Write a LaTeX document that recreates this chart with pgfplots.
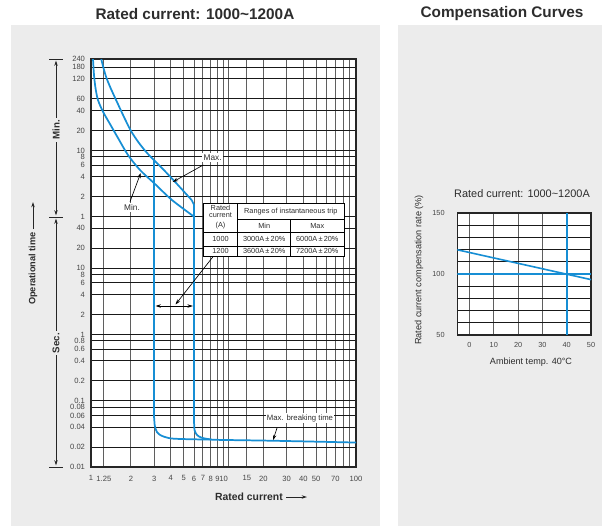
\documentclass[border=0pt]{standalone}
\usepackage{pgfplots}
\pgfplotsset{compat=1.18}
\usepackage{fontspec}
\setmainfont{Liberation Sans}
\usetikzlibrary{arrows.meta}
\definecolor{panel}{RGB}{236,236,236}
\definecolor{cblue}{RGB}{22,142,212}
\definecolor{txt}{RGB}{45,45,45}
\definecolor{ticktxt}{RGB}{70,70,70}
\definecolor{gridv}{RGB}{95,95,95}
\definecolor{gridh}{RGB}{25,25,25}
\begin{document}
\begin{tikzpicture}[x=0.75pt,y=0.75pt]
\useasboundingbox (0,0) rectangle (602,526);
\fill[panel] (11,0) rectangle (380,501);
\fill[panel] (398,0) rectangle (602,501);
\node[font=\fontsize{11.5}{13}\selectfont\bfseries, text=txt] at (195,512) {Rated current: 1000\textasciitilde1200A};
\node[font=\fontsize{11.5}{13}\selectfont\bfseries, text=txt] at (502,512) {Compensation Curves};

% ---------------- main chart ----------------
\begin{axis}[
  at={(68.25pt,44.25pt)}, anchor=south west, scale only axis,
  width=198.75pt, height=306pt,
  xmode=log, ymode=log,
  xmin=1, xmax=100, ymin=0.01, ymax=14400,
  axis background/.style={fill=white},
  axis line style={line width=1.3pt, draw=black!85},
  xtick={1,1.25,2,3,4,5,6,7,8,9,10,15,20,30,40,50,70,100},
  xticklabels={1,1.25,2,3,4,5,6,7,8,9,10,15,20,30,40,50,70,100},
  minor xtick={11,60,80,90},
  ytick={14400,10800,7200,3600,2400,1200,600,480,360,240,120,60,40,20,10,8,6,4,2,1,0.8,0.6,0.4,0.2,0.1,0.08,0.06,0.04,0.02,0.01},
  yticklabels={240,180,120,60,40,20,10,8,6,4,2,1,40,20,10,8,6,4,2,1,0.8,0.6,0.4,0.2,0.1,0.08,0.06,0.04,0.02,0.01},
  major tick length=0pt, minor tick length=0pt,
  xmajorgrids, xminorgrids, ymajorgrids,
  x grid style={draw=gridv, line width=0.75pt},
  minor grid style={draw=gridv, line width=0.75pt},
  y grid style={draw=gridh, line width=0.75pt},
  tick label style={font=\fontsize{5.7}{6}\selectfont, text=ticktxt},
  xticklabel style={yshift=-3pt},
  yticklabel style={xshift=-1pt},
]
% Min curve
\addplot[cblue, line width=1.3pt, smooth, tension=0.5] coordinates {(1.03,18000)(1.0354,14400)(1.0535,8260)(1.0813,5258)(1.129,3464)(1.232,2307)(1.391,1504)(1.599,925)(1.902,512)(2.344,304)(3.041,187)(4.087,107)(6,60)};
% Max curve
\addplot[cblue, line width=1.3pt, smooth, tension=0.5] coordinates {(1.19,17000)(1.196,14400)(1.2427,10534)(1.309,7443)(1.416,5077)(1.571,3232)(1.774,1919)(2.004,1179)(2.303,777)(2.693,530)(3.317,349)(4.18,215)(5.75,107)};
\addplot[cblue, line width=1.3pt] coordinates {(5.75,107)(6,90)(6,0.046)};
\addplot[cblue, line width=1.3pt, smooth] coordinates {(6,0.046)(6.05,0.036)(6.3,0.0305)(6.8,0.0278)(7.5,0.0266)(8.15,0.0259)(10,0.0256)(24,0.0249)(100,0.0234)};
% instantaneous min (3x)
\addplot[cblue, line width=1.3pt] coordinates {(3,426)(3,0.055)};
\addplot[cblue, line width=1.3pt, smooth] coordinates {(3,0.055)(3.03,0.042)(3.15,0.0335)(3.4,0.0297)(3.8,0.0276)(4.18,0.0268)(5,0.0264)(6.5,0.0261)(8.15,0.0259)};
\end{axis}

% annotations on main chart
\begin{scope}[line width=0.5pt, black]
\draw[-{Stealth[length=4pt,width=2.6pt]}] (130,324.3) -- (140.7,353);
\draw[-{Stealth[length=4pt,width=2.6pt]}] (203.3,361) -- (172.7,344);
\draw[-{Stealth[length=4pt,width=2.6pt]}] (277,98) -- (273,85.8);
\draw[{Stealth[length=4pt,width=2.6pt]}-{Stealth[length=4pt,width=2.6pt]}] (155.5,220) -- (192.8,220);
\draw[-{Stealth[length=4pt,width=2.6pt]}] (213,269.3) -- (175.5,221.5);
\end{scope}
\node[fill=white, inner sep=1pt, font=\fontsize{6.2}{7}\selectfont, text=txt] at (132,318.3) {Min.};
\node[fill=white, inner sep=1pt, font=\fontsize{6.2}{7}\selectfont, text=txt] at (212.7,368.7) {Max.};
\node[fill=white, inner sep=1pt, font=\fontsize{5.8}{7}\selectfont, text=txt] at (300,107.7) {Max. breaking time};

% table
\fill[white] (203.3,269.3) rectangle (344,322.7);
\begin{scope}[line width=0.45pt, black]
\draw (203.3,269.3) rectangle (344,322.7);
\draw (237.7,269.3) -- (237.7,322.7);
\draw (237.7,306.7) -- (344,306.7);
\draw (290.7,269.3) -- (290.7,306.7);
\draw (203.3,293.3) -- (344,293.3);
\draw (203.3,280) -- (344,280);
\end{scope}
\begin{scope}[every node/.style={font=\fontsize{5.5}{5.4}\selectfont, text=txt, inner sep=0pt, align=center}]
\node at (220.5,314.9) {Rated\\current};
\node at (220.5,300) {(A)};
\node at (290.85,314.7) {Ranges of instantaneous trip};
\node at (264.2,300) {Min};
\node at (317.3,300) {Max};
\node at (220.5,286.65) {1000};
\node at (264.2,286.65) {3000A\,±\,20\%};
\node at (317.3,286.65) {6000A\,±\,20\%};
\node at (220.5,274.65) {1200};
\node at (264.2,274.65) {3600A\,±\,20\%};
\node at (317.3,274.65) {7200A\,±\,20\%};
\end{scope}

% left brackets
\begin{scope}[line width=0.6pt, black!85]
\draw (49,467) -- (63,467);
\draw (49,309) -- (63,309);
\draw (49,59) -- (63,59);
\draw[{Stealth[length=4pt,width=2.6pt]}-{Stealth[length=4pt,width=2.6pt]}] (56,310.5) -- (56,465.5);
\draw[{Stealth[length=4pt,width=2.6pt]}-{Stealth[length=4pt,width=2.6pt]}] (56,60.5) -- (56,307.5);
\draw[-{Stealth[length=4pt,width=2.6pt]}] (33,297) -- (33,324);
\draw[-{Stealth[length=4pt,width=2.6pt]}] (286,29) -- (307,29);
\end{scope}
\node[rotate=90, fill=panel, inner sep=1.5pt, font=\fontsize{7.3}{8}\selectfont\bfseries, text=txt] at (56,396) {Min.};
\node[rotate=90, fill=panel, inner sep=1.5pt, font=\fontsize{7.3}{8}\selectfont\bfseries, text=txt] at (56,183) {Sec.};
\node[rotate=90, anchor=east, inner sep=0pt, font=\fontsize{6.9}{8}\selectfont\bfseries, text=txt] at (33,294) {Operational time};
\node[anchor=east, inner sep=0pt, font=\fontsize{7.8}{9}\selectfont\bfseries, text=txt] at (283,29) {Rated current};

% ---------------- compensation chart ----------------
\begin{axis}[
  at={(342.975pt,143.25pt)}, anchor=south west, scale only axis,
  width=100.3pt, height=91.3pt,
  xmin=-5, xmax=50, ymin=50, ymax=150,
  axis background/.style={fill=white},
  axis line style={line width=1.2pt, draw=black!85},
  xtick={0,10,20,30,40,50},
  ytick={50,100,150},
  minor ytick={60,70,80,90,110,120,130,140},
  major tick length=0pt, minor tick length=0pt,
  xmajorgrids, ymajorgrids, yminorgrids,
  x grid style={draw=gridv, line width=0.75pt},
  y grid style={draw=gridh, line width=0.75pt},
  minor grid style={draw=gridh, line width=0.75pt},
  tick label style={font=\fontsize{5.5}{6}\selectfont, text=ticktxt},
  /pgf/number format/assume math mode=true,
  xticklabel style={yshift=-2pt},
  yticklabel style={xshift=-6pt},
]
\addplot[cblue, line width=1.2pt] coordinates {(-5,100)(50,100)};
\addplot[cblue, line width=1.2pt] coordinates {(40,50)(40,150)};
\addplot[cblue, line width=1.2pt] coordinates {(-5,120)(50,95.5)};
\end{axis}
\node[font=\fontsize{8.2}{9}\selectfont, text=txt] at (522,332) {Rated current: 1000\textasciitilde1200A};
\node[rotate=90, font=\fontsize{6.85}{8}\selectfont, text=txt] at (419,256) {Rated current compensation rate (\%)};
\node[font=\fontsize{6.8}{8}\selectfont, text=txt] at (531,164) {Ambient temp. 40°C};
\end{tikzpicture}
\end{document}
